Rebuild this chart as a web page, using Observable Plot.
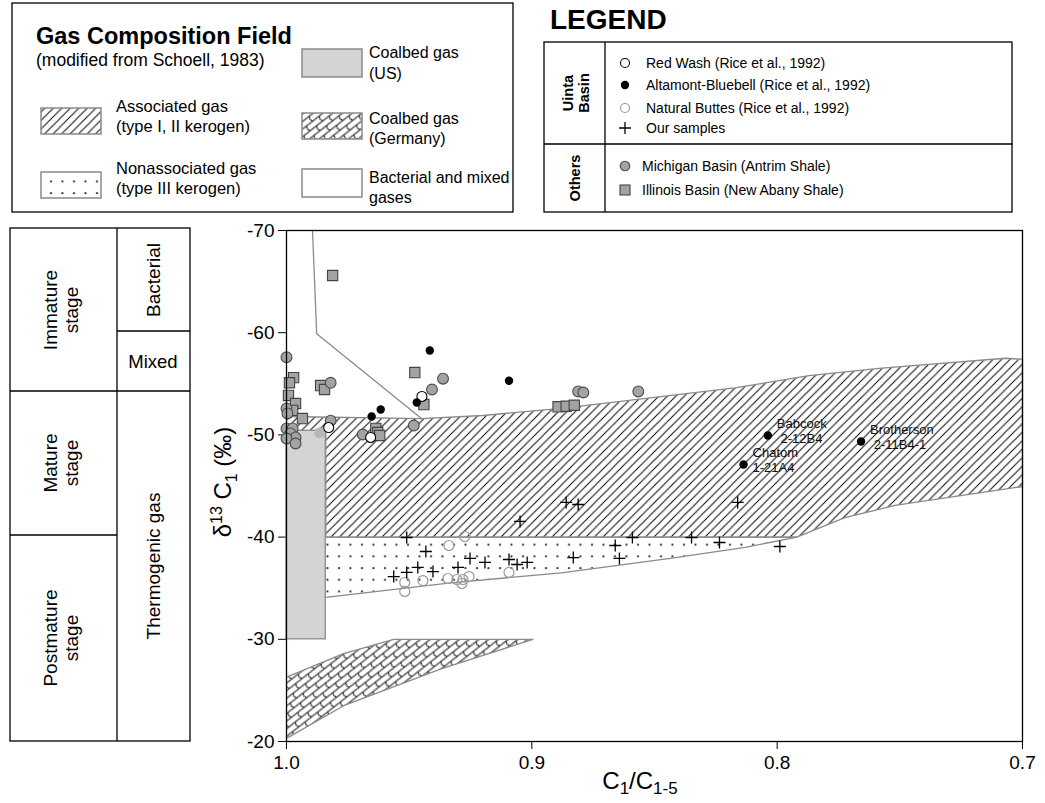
<!DOCTYPE html>
<html><head><meta charset="utf-8">
<script src="https://cdn.jsdelivr.net/npm/d3@7"></script>
<script src="https://cdn.jsdelivr.net/npm/@observablehq/plot@0.6"></script>
<style>
body{margin:0;background:#fff;font-family:Arial,"Liberation Sans",sans-serif;}
#wrap{position:relative;width:1045px;height:803px;overflow:hidden;background:#fff;}
#wrap > svg{position:absolute;left:0;top:0;}
#overlay{z-index:2;pointer-events:none;}
</style></head><body><div id="wrap"></div>
<script>
// ---------- data (C1/C1-5 ratio, d13C1 permil) ----------
const xTicks = [1.0, 0.9, 0.8, 0.7];
const yTicks = [-70, -60, -50, -40, -30, -20];

// composition fields (Schoell, 1983)
const associatedField = [[1.0,-51.8],[0.945,-51.6],[0.92,-51.9],[0.888,-52.6],[0.8173,-54.6],[0.787,-55.8],[0.7585,-56.5],[0.707,-57.5],[0.70,-57.4],
  [0.70,-44.95],[0.752,-43.1],[0.7724,-41.9],[0.792,-40.0],[0.984,-40.0],[0.984,-50.4],[1.0,-50.4]];
const nonassociatedField = [[0.984,-40.0],[0.792,-40.0],[0.813,-39.0],[0.8443,-37.9],[0.888,-36.5],[0.934,-35.5],[0.984,-34.1]];
const coalbedGermany = [[1.0,-26.3],[0.9767,-28.6],[0.9563,-30.0],[0.8995,-30.0],[0.937,-27.1],[0.9767,-23.5],[1.0,-20.3]];
const coalbedUS = [{x1:1.0, x2:0.984, y1:-50.4, y2:-30.0}];
const bacterialBoundary = [[0.9894,-70],[0.9877,-59.9],[0.945,-51.6]];

// samples
const redWash = [[0.9448,-53.76],[0.9828,-50.72],[0.9657,-49.75]];
const altamontBluebell = [[0.9416,-58.26],[0.9469,-53.17],[0.9616,-52.49],[0.9653,-51.8],[0.9093,-55.3],[0.8038,-49.94],[0.8137,-47.1],[0.7658,-49.35]];
const altamontLabels = ["","","","","","Babcock\n\u00a02-12B4","Chatom\n1-21A4","Brotherson\n\u00a02-11B4-1"];
const naturalButtes = [[0.9273,-40.06],[0.9338,-39.18],[0.9518,-35.56],[0.9518,-34.68],[0.9444,-35.75],[0.9342,-35.95],[0.9305,-35.85],[0.9285,-35.46],[0.9281,-35.85],[0.9256,-36.14],[0.9093,-36.54]];
const ourSamples = [[0.951,-39.96],[0.9432,-38.59],[0.9252,-37.91],[0.9191,-37.52],[0.9093,-37.81],[0.906,-37.32],[0.9019,-37.52],[0.8831,-38.0],[0.9465,-37.03],[0.951,-36.54],[0.9563,-36.14],[0.9403,-36.63],[0.9301,-37.03],[0.9048,-41.53],[0.886,-43.39],[0.8811,-43.19],[0.8161,-43.39],[0.859,-39.96],[0.8349,-39.96],[0.866,-39.18],[0.8235,-39.47],[0.7989,-39.08],[0.8643,-37.91]];
const michiganBasin = [[1.0,-57.6],[0.982,-55.1],[0.9362,-55.5],[0.9407,-54.44],[0.9481,-50.92],[0.982,-51.4],[0.9689,-50.04],
  [1.0,-52.58],[0.9996,-52.1],[1.0,-50.63],[0.9975,-50.63],[0.9984,-50.14],[0.9963,-49.75],[1.0,-49.65],[0.9963,-49.16],
  [0.8811,-54.25],[0.879,-54.15],[0.8566,-54.25]];
const michiganFaint = [[0.9865,-50.2]];
const illinoisBasin = [[0.9812,-65.6],[0.9477,-56.1],[0.9861,-54.83],[0.9845,-54.44],[0.944,-52.97],[0.9971,-55.6],[0.9988,-55.1],[0.9992,-53.86],[0.9963,-53.07],[0.9975,-52.4],[0.9935,-51.6],[0.9636,-50.63],[0.9628,-50.23],[0.962,-49.94],[0.8893,-52.75],[0.886,-52.8],[0.8827,-52.9]];

// ---------- helpers ----------
const X = d => d[0], Y = d => d[1];
const thinPlus = {draw(ctx, size){ const r = Math.sqrt(size/Math.PI); ctx.moveTo(-r,0); ctx.lineTo(r,0); ctx.moveTo(0,-r); ctx.lineTo(0,r); }};
const FONT = "Arial, 'Liberation Sans', sans-serif";
const GRAYLINE = "#8a8a8a";

const wellData = altamontBluebell.map((d,i) => ({x:d[0], y:d[1], label:altamontLabels[i]})).filter(d => d.label);

const plot = Plot.plot({
  width: 1045, height: 803,
  marginLeft: 286, marginRight: 23, marginTop: 230, marginBottom: 62,
  style: {fontFamily: FONT, fontSize: "19px", background: "transparent", color: "black"},
  x: {domain: [1.0, 0.7], ticks: xTicks, tickFormat: d => d.toFixed(1), label: null, tickSize: 8, tickPadding: 6},
  y: {domain: [-20, -70], ticks: yTicks, tickFormat: d => String(d), label: null, tickSize: 8, tickPadding: 4},
  marks: [
    Plot.line(associatedField, {x: X, y: Y, fill: "url(#hatch)", stroke: GRAYLINE, strokeWidth: 1.3}),
    Plot.line(nonassociatedField, {x: X, y: Y, fill: "url(#dots)", stroke: GRAYLINE, strokeWidth: 1.3}),
    Plot.line(coalbedGermany, {x: X, y: Y, fill: "url(#germany)", stroke: GRAYLINE, strokeWidth: 1.3}),
    Plot.rect(coalbedUS, {x1: "x1", x2: "x2", y1: "y1", y2: "y2", fill: "#d4d4d4", stroke: GRAYLINE, strokeWidth: 1.3}),
    Plot.line(bacterialBoundary, {x: X, y: Y, stroke: GRAYLINE, strokeWidth: 1.3}),
    Plot.dot(michiganFaint, {x: X, y: Y, r: 5.5, fill: "#b8b8b8", stroke: "none"}),
    Plot.dot(naturalButtes, {x: X, y: Y, r: 5, fill: "none", stroke: "#9a9a9a", strokeWidth: 1.2}),
    Plot.dot(ourSamples, {x: X, y: Y, symbol: thinPlus, r: 6, fill: "none", stroke: "#000", strokeWidth: 1.3}),
    Plot.dot(illinoisBasin, {x: X, y: Y, symbol: "square", r: 5.8, fill: "#a3a3a3", stroke: "#444", strokeWidth: 1.1}),
    Plot.dot(michiganBasin, {x: X, y: Y, r: 5.4, fill: "#a3a3a3", stroke: "#4a4a4a", strokeWidth: 1.1}),
    Plot.dot(redWash, {x: X, y: Y, r: 5, fill: "#fff", stroke: "#000", strokeWidth: 1.1}),
    Plot.dot(altamontBluebell, {x: X, y: Y, r: 4.2, fill: "#000", stroke: "none"}),
    Plot.text(wellData, {x: "x", y: "y", text: "label", textAnchor: "start", dx: 9, dy: -5, fontSize: 13, lineHeight: 1.15, fill: "#111"}),
    Plot.frame({stroke: "#000", strokeWidth: 1.3})
  ]
});
document.getElementById("wrap").appendChild(plot);

// ---------- overlay: legends, side panel, axis titles ----------
const ov = `
<svg id="overlay" xmlns="http://www.w3.org/2000/svg" width="1045" height="803" style="font-family:${FONT}">
<defs>
  <pattern id="hatch" patternUnits="userSpaceOnUse" width="8.5" height="8.5">
    <path d="M-2,2 L2,-2 M0,8.5 L8.5,0 M6.5,10.5 L10.5,6.5" stroke="#000" stroke-width="0.95"/>
  </pattern>
  <pattern id="dots" patternUnits="userSpaceOnUse" width="11.5" height="11.7">
    <circle cx="5" cy="6" r="1.05" fill="#222"/>
  </pattern>
  <pattern id="germany" patternUnits="userSpaceOnUse" width="16" height="12" patternTransform="rotate(-38)">
    <path d="M0,0 H16 M0,6 H16 M0,12 H16 M4,0 q-2.5,3 0,6 M12,6 q-2.5,3 0,6" stroke="#000" stroke-width="0.95" fill="none"/>
  </pattern>
</defs>
<g fill="#000">
  <rect x="12" y="3" width="501" height="209" fill="none" stroke="#000" stroke-width="1.3"/>
  <text x="36" y="44" font-size="23.5" font-weight="bold">Gas Composition Field</text>
  <text x="36" y="66" font-size="17.5">(modified from Schoell, 1983)</text>
  <rect x="41" y="108" width="60" height="26" fill="url(#hatch)" stroke="${GRAYLINE}" stroke-width="1.5"/>
  <text x="116" y="112" font-size="16.5">Associated gas</text>
  <text x="116" y="132" font-size="16.5">(type I, II kerogen)</text>
  <rect x="41" y="172" width="60" height="26" fill="url(#dots)" stroke="${GRAYLINE}" stroke-width="1.5"/>
  <text x="116" y="174" font-size="16.5">Nonassociated gas</text>
  <text x="116" y="194" font-size="16.5">(type III kerogen)</text>
  <rect x="302" y="49" width="60" height="28" fill="#d4d4d4" stroke="${GRAYLINE}" stroke-width="1.5"/>
  <text x="369" y="58" font-size="16">Coalbed gas</text>
  <text x="369" y="79" font-size="16">(US)</text>
  <rect x="302" y="113" width="60" height="26" fill="url(#germany)" stroke="${GRAYLINE}" stroke-width="1.5"/>
  <text x="369" y="124" font-size="16">Coalbed gas</text>
  <text x="369" y="144" font-size="16">(Germany)</text>
  <rect x="302" y="169" width="60" height="28" fill="#fff" stroke="${GRAYLINE}" stroke-width="1.5"/>
  <text x="369" y="183" font-size="16">Bacterial and mixed</text>
  <text x="369" y="203" font-size="16">gases</text>

  <text x="550" y="29" font-size="28" font-weight="bold">LEGEND</text>
  <rect x="544" y="42" width="468" height="170" fill="none" stroke="#000" stroke-width="1.3"/>
  <line x1="605" y1="42" x2="605" y2="212" stroke="#000" stroke-width="1.3"/>
  <line x1="544" y1="144" x2="1013" y2="144" stroke="#000" stroke-width="1.3"/>
  <text transform="translate(573,93) rotate(-90)" text-anchor="middle" font-size="14.5" font-weight="bold">Uinta</text>
  <text transform="translate(589,93) rotate(-90)" text-anchor="middle" font-size="14.5" font-weight="bold">Basin</text>
  <text transform="translate(580,178) rotate(-90)" text-anchor="middle" font-size="14.5" font-weight="bold">Others</text>
  <circle cx="625" cy="63" r="4.5" fill="#fff" stroke="#000" stroke-width="1.1"/>
  <text x="646" y="68" font-size="14">Red Wash (Rice et al., 1992)</text>
  <circle cx="625" cy="85" r="4.2" fill="#000"/>
  <text x="646" y="90" font-size="14">Altamont-Bluebell (Rice et al., 1992)</text>
  <circle cx="625" cy="108" r="4.5" fill="none" stroke="#9a9a9a" stroke-width="1.2"/>
  <text x="646" y="113" font-size="14">Natural Buttes (Rice et al., 1992)</text>
  <path d="M619,128 H631 M625,122 V134" stroke="#000" stroke-width="1.3"/>
  <text x="646" y="133" font-size="14">Our samples</text>
  <circle cx="625" cy="166" r="4.8" fill="#a3a3a3" stroke="#4a4a4a" stroke-width="1.1"/>
  <text x="642" y="171" font-size="14">Michigan Basin (Antrim Shale)</text>
  <rect x="620" y="185" width="10" height="10" fill="#a3a3a3" stroke="#444" stroke-width="1.1"/>
  <text x="642" y="195" font-size="14">Illinois Basin (New Abany Shale)</text>

  <rect x="10" y="228" width="180" height="513" fill="none" stroke="#000" stroke-width="1.3"/>
  <line x1="117" y1="228" x2="117" y2="741" stroke="#000" stroke-width="1.3"/>
  <line x1="10" y1="391" x2="190" y2="391" stroke="#000" stroke-width="1.3"/>
  <line x1="10" y1="535" x2="117" y2="535" stroke="#000" stroke-width="1.3"/>
  <line x1="117" y1="331" x2="190" y2="331" stroke="#000" stroke-width="1.3"/>
  <text transform="translate(57,310) rotate(-90)" text-anchor="middle" font-size="19">Immature</text>
  <text transform="translate(78,310) rotate(-90)" text-anchor="middle" font-size="19">stage</text>
  <text transform="translate(57,463) rotate(-90)" text-anchor="middle" font-size="19">Mature</text>
  <text transform="translate(78,463) rotate(-90)" text-anchor="middle" font-size="19">stage</text>
  <text transform="translate(57,638) rotate(-90)" text-anchor="middle" font-size="19">Postmature</text>
  <text transform="translate(78,638) rotate(-90)" text-anchor="middle" font-size="19">stage</text>
  <text transform="translate(160,280) rotate(-90)" text-anchor="middle" font-size="19">Bacterial</text>
  <text x="153" y="368" text-anchor="middle" font-size="18.5">Mixed</text>
  <text transform="translate(160,566) rotate(-90)" text-anchor="middle" font-size="19">Thermogenic gas</text>

  <text transform="translate(231,482) rotate(-90)" text-anchor="middle" font-size="24">δ<tspan font-size="16" dy="-9">13</tspan><tspan dy="9"> C</tspan><tspan font-size="16" dy="6">1</tspan><tspan dy="-6"> (‰)</tspan></text>
  <text x="640" y="789" text-anchor="middle" font-size="24">C<tspan font-size="17" dy="5">1</tspan><tspan dy="-5">/C</tspan><tspan font-size="17" dy="5">1-5</tspan></text>
</g>
</svg>`;
document.getElementById("wrap").insertAdjacentHTML("beforeend", ov);
</script>
</body></html>
